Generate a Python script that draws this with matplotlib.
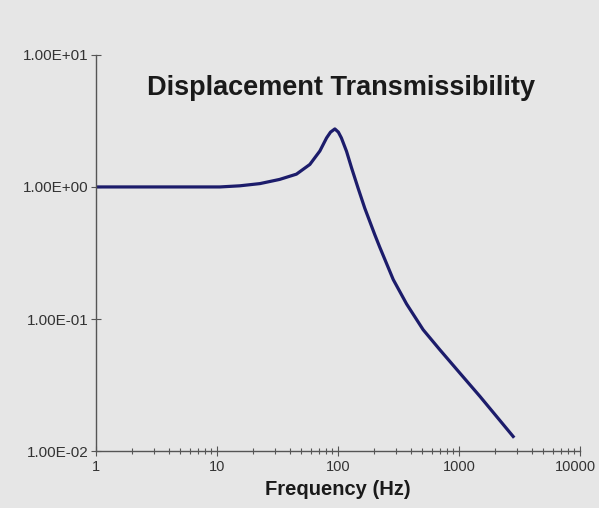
import matplotlib
matplotlib.use("Agg")
from matplotlib import pyplot as plt
from matplotlib import transforms
from matplotlib.ticker import FuncFormatter, LogLocator, NullLocator

# values
freq = [1, 2, 5, 10.6, 15.5, 22.7, 33, 45.5, 58.7, 71, 80.7, 87, 94.5, 101,
        107, 118, 130, 147, 167, 202, 222, 287, 370, 507, 697, 1019, 1492,
        2050, 2812]
trans = [1.0, 1.0, 1.0, 1.0, 1.02, 1.06, 1.14, 1.25, 1.48, 1.87, 2.35, 2.6,
         2.75, 2.6, 2.35, 1.86, 1.39, 0.98, 0.69, 0.435, 0.35, 0.199, 0.13,
         0.083, 0.0585, 0.039, 0.026, 0.0183, 0.0129]

title = "Displacement Transmissibility"
xlabel = "Frequency (Hz)"

plt.rcParams['font.family'] = ['Liberation Sans', 'DejaVu Sans']

bg = '#e6e6e6'
fig = plt.figure(figsize=(5.99, 5.08), dpi=100, facecolor=bg)
ax = fig.add_axes([0.160, 0.112, 0.808, 0.780])
ax.set_facecolor(bg)

ax.plot(freq, trans, color='#1c1c6b', linewidth=2.3, solid_joinstyle='round')

ax.set_xscale('log')
ax.set_yscale('log')
ax.set_xlim(1, 10000)
ax.set_ylim(0.01, 10)

for side in ('top', 'right'):
    ax.spines[side].set_visible(False)
for side in ('left', 'bottom'):
    ax.spines[side].set_color('#555555')
    ax.spines[side].set_linewidth(1.0)

ax.xaxis.set_major_locator(LogLocator(base=10, numticks=10))
ax.xaxis.set_minor_locator(LogLocator(base=10, subs=range(2, 10), numticks=20))
ax.xaxis.set_major_formatter(FuncFormatter(lambda v, p: "%d" % round(v)))
ax.yaxis.set_major_locator(LogLocator(base=10, numticks=10))
ax.yaxis.set_minor_locator(NullLocator())
ax.yaxis.set_major_formatter(FuncFormatter(lambda v, p: "%.2E" % v))

ax.tick_params(axis='both', which='major', direction='inout', length=7, width=0.8,
               color='#555555', labelsize=11, labelcolor='#333333')
ax.tick_params(axis='x', which='major', labelsize=10.5)
ax.tick_params(axis='x', which='minor', direction='inout', length=5, width=0.8,
               color='#555555')
ax.tick_params(axis='y', pad=2)
ax.tick_params(axis='x', pad=3)

# keep the last x label ("10000") inside the picture
fig.canvas.draw()
last = [t for t in ax.get_xticklabels() if t.get_text() == "10000"]
for t in last:
    t.set_transform(t.get_transform() + transforms.ScaledTranslation(-4 / 100, 0, fig.dpi_scale_trans))

ax.text(0.506, 0.917, title, transform=ax.transAxes, ha='center', va='center',
        fontsize=19.5, fontweight='bold', color='#1a1a1a')
ax.set_xlabel(xlabel, fontsize=14.5, fontweight='bold', color='#1a1a1a', labelpad=4)

fig.savefig("out.png", dpi=100, facecolor=bg)
